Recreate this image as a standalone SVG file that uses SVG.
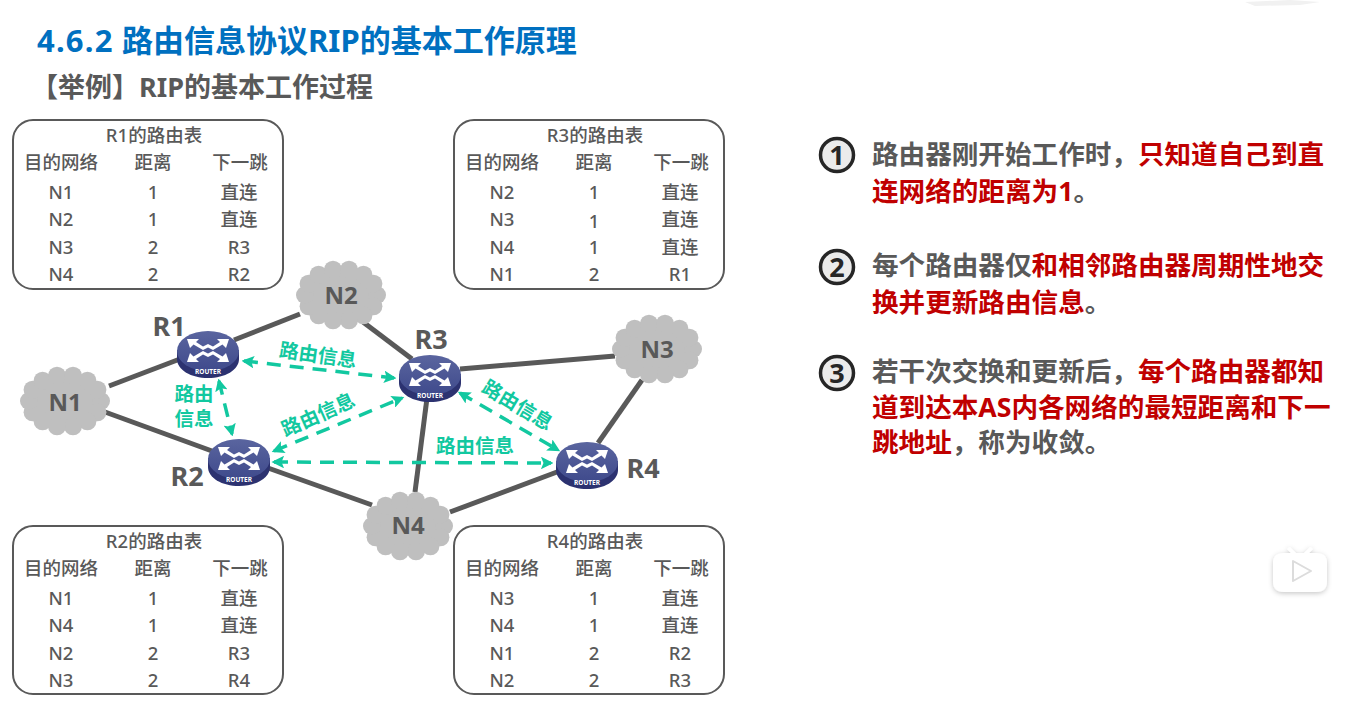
<svg xmlns="http://www.w3.org/2000/svg" width="1351" height="702" viewBox="0 0 1351 702">
<style>
text{font-family:"Noto Sans","Noto Sans CJK SC",sans-serif}
.t{font-size:31px;font-weight:700;fill:#0070c0}
.s{font-size:27px;font-weight:700;fill:#595959}
.box{fill:#fff;stroke:#595959;stroke-width:2}
.tt{font-size:18.500px;font-weight:500;fill:#595959;text-anchor:middle}
.h{font-size:18.500px;font-weight:500;fill:#595959;text-anchor:middle}
.c{font-size:18.500px;font-weight:500;fill:#595959;text-anchor:middle}
.b{font-size:26.600px;font-weight:700;fill:#595959}
.r{fill:#c00000}
.num{font-size:27px;font-weight:700;fill:#262626;text-anchor:middle}
.circ{fill:#ebebeb;stroke:#262626;stroke-width:3.500}
.link{stroke:#595959;stroke-width:5;fill:none}
.info{stroke:#12c8a0;stroke-width:3.500;stroke-dasharray:14 9;fill:none;marker-start:url(#as);marker-end:url(#ae)}
.lab{font-size:19.500px;font-weight:700;fill:#12c8a0;text-anchor:middle;stroke:#fff;stroke-width:3;paint-order:stroke}
.nn{font-size:24px;font-weight:700;fill:#595959;text-anchor:middle}
.rl{font-size:27px;font-weight:700;fill:#595959;text-anchor:middle}
.cl{fill:#bfbfbf}
.rt{font-size:6.500px;font-weight:700;fill:#fff;text-anchor:middle}
</style>
<defs>
<marker id="ae" viewBox="0 0 5 5" markerWidth="3.600" markerHeight="3.600" refX="4" refY="2.500" orient="auto"><path d="M0 0L5 2.500L0 5L1 2.500Z" fill="#12c8a0"/></marker>
<marker id="as" viewBox="0 0 5 5" markerWidth="3.600" markerHeight="3.600" refX="1" refY="2.500" orient="auto"><path d="M5 0L0 2.500L5 5L4 2.500Z" fill="#12c8a0"/></marker>
<linearGradient id="top" x1="0" y1="0" x2="0" y2="1"><stop offset="0" stop-color="#5a659f"/><stop offset="1" stop-color="#3f4a8c"/></linearGradient>
<filter id="soft" x="-30%" y="-30%" width="160%" height="160%"><feDropShadow dx="0" dy="1.500" stdDeviation="2.500" flood-color="#000" flood-opacity="0.22"/></filter>
<g id="cloud" class="cl">
<ellipse rx="38" ry="29"/>
<circle cx="36" cy="0" r="9"/><circle cx="32.400" cy="11.300" r="9"/><circle cx="22.400" cy="20.300" r="9"/><circle cx="8" cy="25.300" r="9"/><circle cx="-8" cy="25.300" r="9"/><circle cx="-22.400" cy="20.300" r="9"/><circle cx="-32.400" cy="11.300" r="9"/><circle cx="-36" cy="0" r="9"/><circle cx="-32.400" cy="-11.300" r="9"/><circle cx="-22.400" cy="-20.300" r="9"/><circle cx="-8" cy="-25.300" r="9"/><circle cx="8" cy="-25.300" r="9"/><circle cx="22.400" cy="-20.300" r="9"/><circle cx="32.400" cy="-11.300" r="9"/>
</g>
<g id="router">
<path d="M-31 -4V5C-31 16 -17 24 0 24S31 16 31 5V-4Z" fill="#2c3270"/>
<ellipse cx="0" cy="-3" rx="31" ry="20" fill="url(#top)"/>
<g fill="#fff">
<path d="M-21 -15H-9L-12 -12L-5 -7.500L0 -10V-6.500L-5 -4L-14.500 -9.500L-18 -6Z"/>
<path d="M21 -15H9L12 -12L5 -7.500L0 -10V-6.500L5 -4L14.500 -9.500L18 -6Z"/>
<path d="M-21 8H-9L-12 5L-5 0.500L0 3V-0.500L-5 -3L-14.500 2.500L-18 -1Z"/>
<path d="M21 8H9L12 5L5 0.500L0 3V-0.500L5 -3L14.500 2.500L18 -1Z"/>
</g>
<text class="rt" x="0" y="20">ROUTER</text>
</g>
</defs>
<rect width="1351" height="702" fill="#fff"/>
<path d="M1245 2L1290 0L1320 2L1300 5L1255 6Z" fill="#f1f1f1"/>
<text class="t" x="37" y="52"><tspan letter-spacing="1.200">4.6.2</tspan> <tspan x="122">路由信息协议RIP的基本工作原理</tspan></text>
<text class="s" x="31" y="97">【举例】RIP的基本工作过程</text>

<g id="table-r1">
<rect class="box" x="13" y="120" width="270" height="169" rx="20"/>
<text class="tt" x="154" y="142">R1的路由表</text>
<text class="h" x="61" y="169">目的网络</text><text class="h" x="153" y="169">距离</text><text class="h" x="240" y="169">下一跳</text>
<text class="c" x="61" y="199">N1</text><text class="c" x="153" y="199">1</text><text class="c" x="239" y="199">直连</text>
<text class="c" x="61" y="226">N2</text><text class="c" x="153" y="226">1</text><text class="c" x="239" y="226">直连</text>
<text class="c" x="61" y="254">N3</text><text class="c" x="153" y="254">2</text><text class="c" x="239" y="254">R3</text>
<text class="c" x="61" y="281">N4</text><text class="c" x="153" y="281">2</text><text class="c" x="239" y="281">R2</text>
</g>
<g id="table-r3">
<rect class="box" x="454" y="120" width="270" height="169" rx="20"/>
<text class="tt" x="595" y="142">R3的路由表</text>
<text class="h" x="502" y="169">目的网络</text><text class="h" x="594" y="169">距离</text><text class="h" x="681" y="169">下一跳</text>
<text class="c" x="502" y="199">N2</text><text class="c" x="594" y="199">1</text><text class="c" x="680" y="199">直连</text>
<text class="c" x="502" y="226">N3</text><text class="c" x="594" y="228">1</text><text class="c" x="680" y="226">直连</text>
<text class="c" x="502" y="254">N4</text><text class="c" x="594" y="254">1</text><text class="c" x="680" y="254">直连</text>
<text class="c" x="502" y="281">N1</text><text class="c" x="594" y="281">2</text><text class="c" x="680" y="281">R1</text>
</g>
<g id="table-r2">
<rect class="box" x="13" y="526" width="270" height="168" rx="20"/>
<text class="tt" x="154" y="548">R2的路由表</text>
<text class="h" x="61" y="575">目的网络</text><text class="h" x="153" y="575">距离</text><text class="h" x="240" y="575">下一跳</text>
<text class="c" x="61" y="605">N1</text><text class="c" x="153" y="605">1</text><text class="c" x="239" y="605">直连</text>
<text class="c" x="61" y="632">N4</text><text class="c" x="153" y="632">1</text><text class="c" x="239" y="632">直连</text>
<text class="c" x="61" y="660">N2</text><text class="c" x="153" y="660">2</text><text class="c" x="239" y="660">R3</text>
<text class="c" x="61" y="687">N3</text><text class="c" x="153" y="687">2</text><text class="c" x="239" y="687">R4</text>
</g>
<g id="table-r4">
<rect class="box" x="454" y="526" width="270" height="168" rx="20"/>
<text class="tt" x="595" y="548">R4的路由表</text>
<text class="h" x="502" y="575">目的网络</text><text class="h" x="594" y="575">距离</text><text class="h" x="681" y="575">下一跳</text>
<text class="c" x="502" y="605">N3</text><text class="c" x="594" y="605">1</text><text class="c" x="680" y="605">直连</text>
<text class="c" x="502" y="632">N4</text><text class="c" x="594" y="632">1</text><text class="c" x="680" y="632">直连</text>
<text class="c" x="502" y="660">N1</text><text class="c" x="594" y="660">2</text><text class="c" x="680" y="660">R2</text>
<text class="c" x="502" y="687">N2</text><text class="c" x="594" y="687">2</text><text class="c" x="680" y="687">R3</text>
</g>

<g id="connectors">
<path class="link" d="M109 386L180 359"/>
<path class="link" d="M105 412L212 451"/>
<path class="link" d="M234 340L300 314"/>
<path class="link" d="M363 322L412 359"/>
<path class="link" d="M460 369L615 356"/>
<path class="link" d="M427 398L415 492"/>
<path class="link" d="M268 468L372 505"/>
<path class="link" d="M450 512L557 472"/>
<path class="link" d="M598 443L642 380"/>
<path class="info" d="M244 361L394 378"/>
<path class="info" d="M219 381L232 434"/>
<path class="info" d="M274 451L402 398"/>
<path class="info" d="M274 462L551 463"/>
<path class="info" d="M460 393L558 450"/>
</g>

<g id="n1"><use href="#cloud" x="65" y="401"/><text class="nn" x="65" y="411">N1</text></g>
<g id="n2"><use href="#cloud" x="341" y="295"/><text class="nn" x="341" y="304">N2</text></g>
<g id="n3"><use href="#cloud" x="657" y="349"/><text class="nn" x="657" y="358">N3</text></g>
<g id="n4"><use href="#cloud" x="408" y="526"/><text class="nn" x="408" y="534">N4</text></g>

<g id="r1"><use href="#router" x="208" y="354"/><text class="rl" x="169" y="336">R1</text></g>
<g id="r2"><use href="#router" x="239" y="462"/><text class="rl" x="187" y="486">R2</text></g>
<g id="r3"><use href="#router" x="430" y="378"/><text class="rl" x="431" y="349">R3</text></g>
<g id="r4"><use href="#router" x="587" y="465"/><text class="rl" x="643" y="478">R4</text></g>

<g id="labels">
<text class="lab" transform="translate(317 362) rotate(8)">路由信息</text>
<text class="lab" x="194" y="401">路由</text>
<text class="lab" x="194" y="426">信息</text>
<text class="lab" transform="translate(321 421) rotate(-24)">路由信息</text>
<text class="lab" transform="translate(514 411) rotate(31)">路由信息</text>
<text class="lab" x="475" y="453">路由信息</text>
</g>

<g id="step1">
<circle class="circ" cx="837" cy="155" r="16.500"/><text class="num" x="837" y="165">1</text>
<text class="b" x="872" y="164">路由器刚开始工作时，<tspan class="r">只知道自己到直</tspan></text>
<text class="b r" x="872" y="201">连网络的距离为1<tspan fill="#595959">。</tspan></text>
</g>
<g id="step2">
<circle class="circ" cx="837" cy="267" r="16.500"/><text class="num" x="837" y="277">2</text>
<text class="b" x="872" y="275">每个路由器仅<tspan class="r">和相邻路由器周期性地交</tspan></text>
<text class="b r" x="872" y="312">换并更新路由信息<tspan fill="#595959">。</tspan></text>
</g>
<g id="step3">
<circle class="circ" cx="837" cy="373" r="16.500"/><text class="num" x="837" y="383">3</text>
<text class="b" x="872" y="381">若干次交换和更新后，<tspan class="r">每个路由器都知</tspan></text>
<text class="b r" x="872" y="417">道到达本AS内各网络的最短距离和下一</text>
<text class="b" x="872" y="452"><tspan class="r">跳地址</tspan>，称为收敛。</text>
</g>

<g id="watermark" filter="url(#soft)">
<path d="M1290 547L1296 553H1304L1310 547L1313 549L1309 553H1316Q1327 553 1327 563V581Q1327 592 1316 592H1284Q1273 592 1273 581V563Q1273 553 1284 553H1291L1287 549Z" fill="#fff"/>
<path d="M1293 561L1311 571L1293 581Z" fill="#fff" stroke="#dcdcdc" stroke-width="2" stroke-linejoin="round"/>
</g>
</svg>
